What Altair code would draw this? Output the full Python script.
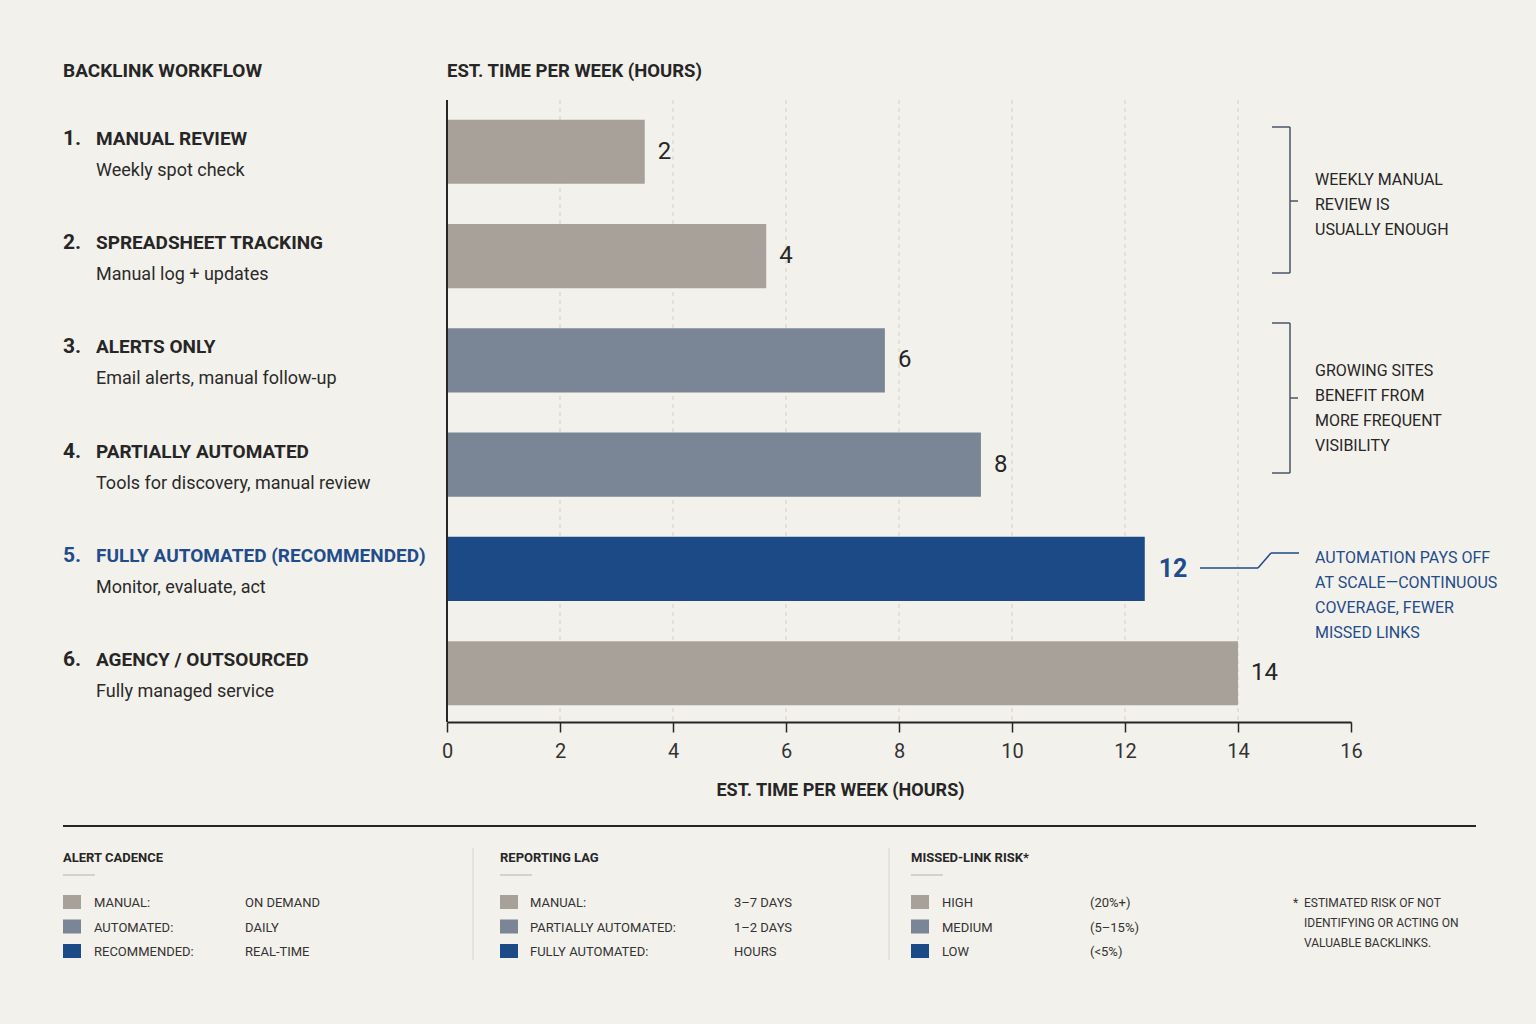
import altair as alt
import pandas as pd

# ---------------- data ----------------
numbers = ["1.", "2.", "3.", "4.", "5.", "6."]
titles = ["MANUAL REVIEW", "SPREADSHEET TRACKING", "ALERTS ONLY", "PARTIALLY AUTOMATED",
          "FULLY AUTOMATED (RECOMMENDED)", "AGENCY / OUTSOURCED"]
subtitles = ["Weekly spot check", "Manual log + updates", "Email alerts, manual follow-up",
             "Tools for discovery, manual review", "Monitor, evaluate, act", "Fully managed service"]
bar_hours = [3.5, 5.65, 7.75, 9.45, 12.35, 14.0]
value_labels = ["2", "4", "6", "8", "12", "14"]
groups = ["manual", "manual", "partial", "partial", "full", "manual"]
grid_values = [2, 4, 6, 8, 10, 12, 14]
x_ticks = [0, 2, 4, 6, 8, 10, 12, 14, 16]

note1 = ["WEEKLY MANUAL", "REVIEW IS", "USUALLY ENOUGH"]
note2 = ["GROWING SITES", "BENEFIT FROM", "MORE FREQUENT", "VISIBILITY"]
note3 = ["AUTOMATION PAYS OFF", "AT SCALE\u2014CONTINUOUS", "COVERAGE, FEWER", "MISSED LINKS"]

cadence_title = "ALERT CADENCE"
cadence_labels = ["MANUAL:", "AUTOMATED:", "RECOMMENDED:"]
cadence_values = ["ON DEMAND", "DAILY", "REAL-TIME"]
lag_title = "REPORTING LAG"
lag_labels = ["MANUAL:", "PARTIALLY AUTOMATED:", "FULLY AUTOMATED:"]
lag_values = ["3\u20137 DAYS", "1\u20132 DAYS", "HOURS"]
risk_title = "MISSED-LINK RISK*"
risk_labels = ["HIGH", "MEDIUM", "LOW"]
risk_values = ["(20%+)", "(5\u201315%)", "(<5%)"]
footnote = ["ESTIMATED RISK OF NOT", "IDENTIFYING OR ACTING ON", "VALUABLE BACKLINKS."]

# ---------------- styles ----------------
BG = "#F3F1EC"
DARK = "#262626"
BLUE = "#1D4A86"
BLUE_TXT = "#1F4C8A"
C_MANUAL = "#A8A19A"
C_PARTIAL = "#7A8596"
C_FULL = "#1C4A86"
BRACKET = "#4A5466"
FONT = "Roboto"

L, T = 447, 103          # plot origin in page pixels
W, H = 904, 619

df = pd.DataFrame({
    "num": numbers, "title": titles, "sub": subtitles,
    "hours": bar_hours, "label": value_labels, "group": groups,
})
grid_df = pd.DataFrame({"hours": grid_values})

xscale = alt.Scale(domain=[0, 16], nice=False)
xaxis = alt.Axis(values=x_ticks, grid=False, domainColor=DARK, domainWidth=2,
                 tickColor=DARK, tickWidth=1.5, tickSize=10, labelFlush=False,
                 labelFont=FONT, labelFontSize=20, labelColor="#333333", labelPadding=9,
                 title="EST. TIME PER WEEK (HOURS)", titleFont=FONT, titleFontSize=18,
                 titleFontWeight="bold", titleColor=DARK, titleX=393, titleY=73,
                 titleAlign="center", titleBaseline="alphabetic")
yscale = alt.Scale(domain=titles, paddingInner=0.385, paddingOuter=0.16)
x_enc = alt.X("hours:Q", scale=xscale, axis=xaxis)
y_enc = alt.Y("title:N", scale=yscale, axis=None, sort=titles)

one = alt.Data(values=[{}])


def px(x):
    return alt.value(x - L)


def py(y):
    return alt.value(y - T)


def txt(x, y, text, size=15, weight="normal", color=DARK, align="left", line_height=None):
    kw = dict(text=text, fontSize=size, fontWeight=weight, color=color, align=align,
              baseline="alphabetic", font=FONT)
    if line_height:
        kw["lineHeight"] = line_height
    return alt.Chart(one).mark_text(**kw).encode(x=px(x), y=py(y))


def rule(x1, y1, x2, y2, color=DARK, width=1.5):
    return alt.Chart(one).mark_rule(color=color, strokeWidth=width).encode(
        x=px(x1), y=py(y1), x2=px(x2), y2=py(y2))


def box(x1, y1, x2, y2, color):
    return alt.Chart(one).mark_rect(color=color).encode(
        x=px(x1), y=py(y1), x2=px(x2), y2=py(y2))


base = alt.Chart(df)

grid = alt.Chart(grid_df).mark_rule(color="#D3CEC6", strokeDash=[4, 4], strokeWidth=1).encode(
    x=x_enc, y=alt.value(-3), y2=alt.value(H))

bars = base.mark_bar().encode(
    x=x_enc, y=y_enc,
    color=alt.Color("group:N", legend=None,
                    scale=alt.Scale(domain=["manual", "partial", "full"],
                                    range=[C_MANUAL, C_PARTIAL, C_FULL])))

yline = alt.Chart(one).mark_rule(color=DARK, strokeWidth=2).encode(
    x=alt.value(0), y=alt.value(-3), y2=alt.value(H))

vals = base.transform_filter("datum.group != 'full'").mark_text(
    align="left", baseline="middle", dx=13, fontSize=24, font=FONT, color=DARK).encode(
    x=x_enc, y=y_enc, text="label:N")
vals_hl = base.transform_filter("datum.group == 'full'").mark_text(
    align="left", baseline="middle", dx=14, fontSize=25, font=FONT, color=BLUE_TXT,
    fontWeight="bold").encode(x=x_enc, y=y_enc, text="label:N")

row_color = alt.condition("datum.group == 'full'", alt.value(BLUE_TXT), alt.value(DARK))
nums = base.mark_text(align="left", baseline="alphabetic", dy=-7, fontSize=21,
                      fontWeight="bold", font=FONT).encode(
    x=alt.value(63 - L), y=y_enc, text="num:N", color=row_color)
ttl = base.mark_text(align="left", baseline="alphabetic", dy=-7, fontSize=19,
                     fontWeight="bold", font=FONT).encode(
    x=alt.value(96 - L), y=y_enc, text="title:N", color=row_color)
subs = base.mark_text(align="left", baseline="alphabetic", dy=24, fontSize=18,
                      font=FONT, color="#2A2A2A").encode(
    x=alt.value(96 - L), y=y_enc, text="sub:N")

layers = [grid, bars, yline, vals, vals_hl, nums, ttl, subs]

# headers
layers.append(txt(63, 77, "BACKLINK WORKFLOW", size=19, weight="bold"))
layers.append(txt(447, 77, "EST. TIME PER WEEK (HOURS)", size=18.5, weight="bold"))

# brackets
for (top, bot, mid) in [(127, 273, 201), (323, 473, 398)]:
    layers += [rule(1290, top, 1290, bot, BRACKET), rule(1272, top, 1290, top, BRACKET),
               rule(1272, bot, 1290, bot, BRACKET), rule(1290, mid, 1298, mid, BRACKET)]
layers.append(txt(1315, 185, note1, size=16, line_height=25))
layers.append(txt(1315, 376, note2, size=16, line_height=25))

# leader for recommended
layers += [rule(1200, 568, 1258, 568, BLUE, 1.5), rule(1258, 568, 1271, 553, BLUE, 1.5),
           rule(1271, 553, 1299, 553, BLUE, 1.5)]
layers.append(txt(1315, 563, note3, size=16, line_height=25, color=BLUE_TXT))

# bottom section
layers.append(rule(63, 826, 1476, 826, DARK, 2))
layers.append(rule(473, 848, 473, 960, "#D8D4CD", 1))
layers.append(rule(889, 848, 889, 960, "#D8D4CD", 1))

sw_colors = [C_MANUAL, C_PARTIAL, C_FULL]
cols = [
    (63, 81, 94, 245, cadence_title, cadence_labels, cadence_values),
    (500, 518, 530, 734, lag_title, lag_labels, lag_values),
    (911, 929, 942, 1090, risk_title, risk_labels, risk_values),
]
for (sx1, sx2, lx, vx, head, labs, vs) in cols:
    layers.append(txt(sx1, 862, head, size=13, weight="bold"))
    layers.append(rule(sx1, 875, sx1 + 32, 875, "#B8B3AB", 1))
    for i in range(3):
        yc = 902 + i * 24.5
        layers.append(box(sx1, yc - 7, sx2, yc + 7, sw_colors[i]))
        layers.append(txt(lx, yc + 5, labs[i], size=13, color="#333333"))
        layers.append(txt(vx, yc + 5, vs[i], size=13, color="#333333"))

layers.append(txt(1293, 907, "*", size=12, color="#333333"))
layers.append(txt(1304, 907, footnote, size=12, color="#333333", line_height=20))

chart = alt.layer(*layers).properties(
    width=W, height=H,
    background=BG,
    padding={"left": L, "top": T, "right": 1536 - L - W, "bottom": 1024 - T - H},
    autosize=alt.AutoSizeParams(type="none"),
).configure_view(stroke=None)

chart.save("out.html", embed_options={"renderer": "svg", "actions": False})
